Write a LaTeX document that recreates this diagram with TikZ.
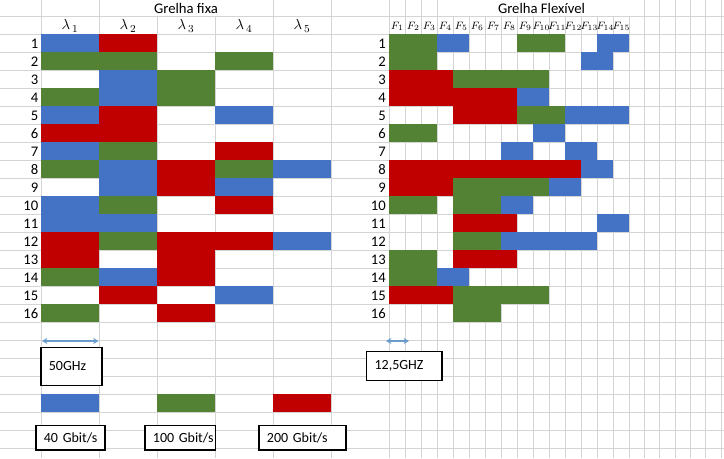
\documentclass[tikz,border=0pt]{standalone}
\usepackage{fontspec}
\setmainfont{Carlito}
\usetikzlibrary{arrows.meta, positioning}

\definecolor{cellblue}{RGB}{68,114,196}
\definecolor{cellred}{RGB}{192,0,0}
\definecolor{cellgreen}{RGB}{84,130,53}
\definecolor{gridline}{RGB}{212,212,212}
\definecolor{spanblue}{RGB}{105,155,205}

\begin{document}
\begin{tikzpicture}[x=0.75pt, y=-0.75pt, font=\fontsize{11}{13}\selectfont,
    gridrule/.style={gridline, line width=0.75pt},
    rownum/.style={anchor=east, inner sep=0pt},
    valbox/.style={draw, fill=white, line width=0.9pt, inner xsep=6pt, inner ysep=0pt, anchor=west, align=left, font=\fontsize{10.5}{12}\selectfont},
    spanarrow/.style={spanblue, line width=1.1pt, {Stealth[length=4pt,width=4.5pt]}-{Stealth[length=4pt,width=4.5pt]}}]

    \useasboundingbox (0,0) rectangle (724,458);
    \fill[white] (0,0) rectangle (724,458);

    % spreadsheet grid
    \foreach \y in {16,34,...,448}
        \draw[gridrule] (0,\y) -- (724,\y);
    \foreach \x in {41,99,157,215,273,331,389.3,405.3,421.3,437.3,453.3,469.3,485.3,501.3,517.3,533.3,549.3,565.3,581.3,597.3,613.3,629.3,644.6,659.9,675.2,690.5,705.8,721.1}
        \draw[gridrule] (\x,16) -- (\x,458);
    \foreach \x in {41,99,273,331,389.3,405.3,421.3,437.3,644.6,659.9,675.2,690.5,705.8,721.1}
        \draw[gridrule] (\x,0) -- (\x,16);

    % titles
    \node (fixtitle) at (186,8) {Grelha fixa};
    \node (flextitle) at (541.5,8) {Grelha Flexível};

    % headers
    \foreach \i in {1,...,5}
        \node (lam\i) at ({12+58*\i},26) {$\lambda_{\,\i}$};
    \foreach \i in {1,...,15}
        \node[inner sep=0pt, font=\fontsize{8}{9}\selectfont] (freq\i) at ({381.3+16*\i},26.5) {$F_{\i}$};

    % fixed grid slots
    \foreach \r/\c/\col in {1/1/blue,1/2/red,
        2/1/green,2/2/green,2/4/green,
        3/2/blue,3/3/green,
        4/1/green,4/2/blue,4/3/green,
        5/1/blue,5/2/red,5/4/blue,
        6/1/red,6/2/red,
        7/1/blue,7/2/green,7/4/red,
        8/1/green,8/2/blue,8/3/red,8/4/green,8/5/blue,
        9/2/blue,9/3/red,9/4/blue,
        10/1/blue,10/2/green,10/4/red,
        11/1/blue,11/2/blue,
        12/1/red,12/2/green,12/3/red,12/4/red,12/5/blue,
        13/1/red,13/3/red,
        14/1/green,14/2/blue,14/3/red,
        15/2/red,15/4/blue,
        16/1/green,16/3/red}
        \fill[cell\col] ({41+58*(\c-1)},{16+18*\r}) rectangle ({41+58*\c},{34+18*\r});

    % flexible grid slots
    \foreach \r/\a/\b/\col in {1/1/3/green,1/4/5/blue,1/9/11/green,1/14/15/blue,
        2/1/3/green,2/13/14/blue,
        3/1/4/red,3/5/10/green,
        4/1/8/red,4/9/10/blue,
        5/5/8/red,5/9/11/green,5/12/15/blue,
        6/1/3/green,6/10/11/blue,
        7/8/9/blue,7/12/13/blue,
        8/1/12/red,8/13/14/blue,
        9/1/4/red,9/5/10/green,9/11/12/blue,
        10/1/3/green,10/5/7/green,10/8/9/blue,
        11/5/8/red,11/14/15/blue,
        12/5/7/green,12/8/13/blue,
        13/1/3/green,13/5/8/red,
        14/1/3/green,14/4/5/blue,
        15/1/4/red,15/5/10/green,
        16/5/7/green}
        \fill[cell\col] ({389.3+16*(\a-1)},{16+18*\r}) rectangle ({389.3+16*\b},{34+18*\r});

    % row numbers
    \foreach \r in {1,...,16} {
        \node[rownum] (fixrow\r) at (38.5,{25.5+18*\r}) {\r};
        \node[rownum] (flexrow\r) at (386,{25.5+18*\r}) {\r};
    }

    % channel widths
    \coordinate (fixL) at (42,341);
    \coordinate (fixR) at (98.5,341);
    \draw[spanarrow] (fixL) -- (fixR);
    \node[valbox, text width=33.75pt, minimum height=28.5pt] (bw50) at (40.3,366.3) {\mbox{50GHz}};

    \coordinate (flexL) at (386,341);
    \coordinate (flexR) at (409,341);
    \draw[spanarrow] (flexL) -- (flexR);
    \node[valbox, text width=44.5pt, minimum height=22pt] (bw125) at (366,366) {\mbox{12,5GHZ}};

    % bit rates
    \fill[cellblue] (41,394) rectangle (99,412);
    \fill[cellgreen] (157,394) rectangle (215,412);
    \fill[cellred] (273,394) rectangle (331,412);
    \node[valbox, text width=39.75pt, minimum height=18.5pt] (rate40) at (35.3,437.7) {\mbox{40 Gbit/s}};
    \node[valbox, text width=40.8pt, minimum height=18.5pt] (rate100) at (144.3,437.7) {\mbox{100 Gbit/s}};
    \node[valbox, text width=53.25pt, minimum height=18.5pt] (rate200) at (258.3,437.7) {\mbox{200 Gbit/s}};
\end{tikzpicture}
\end{document}
